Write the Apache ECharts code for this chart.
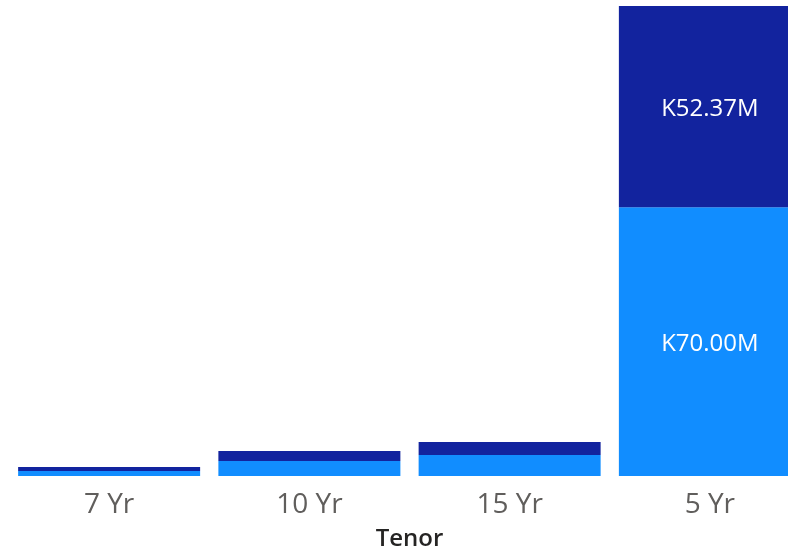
<!DOCTYPE html>
<html>
<head>
<meta charset="utf-8">
<script src="https://cdn.jsdelivr.net/npm/echarts@6/dist/echarts.min.js"></script>
<style>html,body{margin:0;padding:0;background:#fff}#c{width:788px;height:552px}</style>
</head>
<body>
<div id="c"></div>
<script>
const categories = ['7 Yr', '10 Yr', '15 Yr', '5 Yr'];
const lightSeries = [1.30, 3.90, 5.46, 70.00];
const darkSeries = [1.04, 2.60, 3.38, 52.37];
const axisName = 'Tenor';

const FONT = '"Segoe UI", "Open Sans", sans-serif';
function items(vals) {
  return vals.map(v => ({ value: v, label: { show: v > 20 } }));
}
const labelCfg = {
  position: 'inside',
  color: '#ffffff',
  fontSize: 24,
  fontFamily: FONT,
  offset: [0, 3],
  formatter: p => 'K' + p.value.toFixed(2) + 'M'
};
const chart = echarts.init(document.getElementById('c'), null, { renderer: 'canvas' });
chart.setOption({
  animation: false,
  backgroundColor: '#ffffff',
  grid: { left: 9, width: 801, top: 6, bottom: 76, containLabel: false, outerBoundsMode: 'none' },
  xAxis: {
    type: 'category',
    data: categories,
    axisLine: { show: false },
    axisTick: { show: false },
    axisLabel: { color: '#605E5C', fontSize: 28, fontFamily: FONT, margin: 15 },
    name: axisName,
    nameLocation: 'middle',
    nameGap: 51,
    nameTextStyle: { color: '#252423', fontSize: 24, fontFamily: FONT, fontWeight: 600 }
  },
  yAxis: {
    type: 'value', min: 0, max: 122.37, show: false,
    splitLine: { show: false }
  },
  series: [
    {
      type: 'bar', stack: 'a', data: items(lightSeries), barWidth: 182,
      itemStyle: { color: '#118DFF' }, label: labelCfg
    },
    {
      type: 'bar', stack: 'a', data: items(darkSeries), barWidth: 182,
      itemStyle: { color: '#12239E' }, label: labelCfg
    }
  ]
});
</script>
</body>
</html>
